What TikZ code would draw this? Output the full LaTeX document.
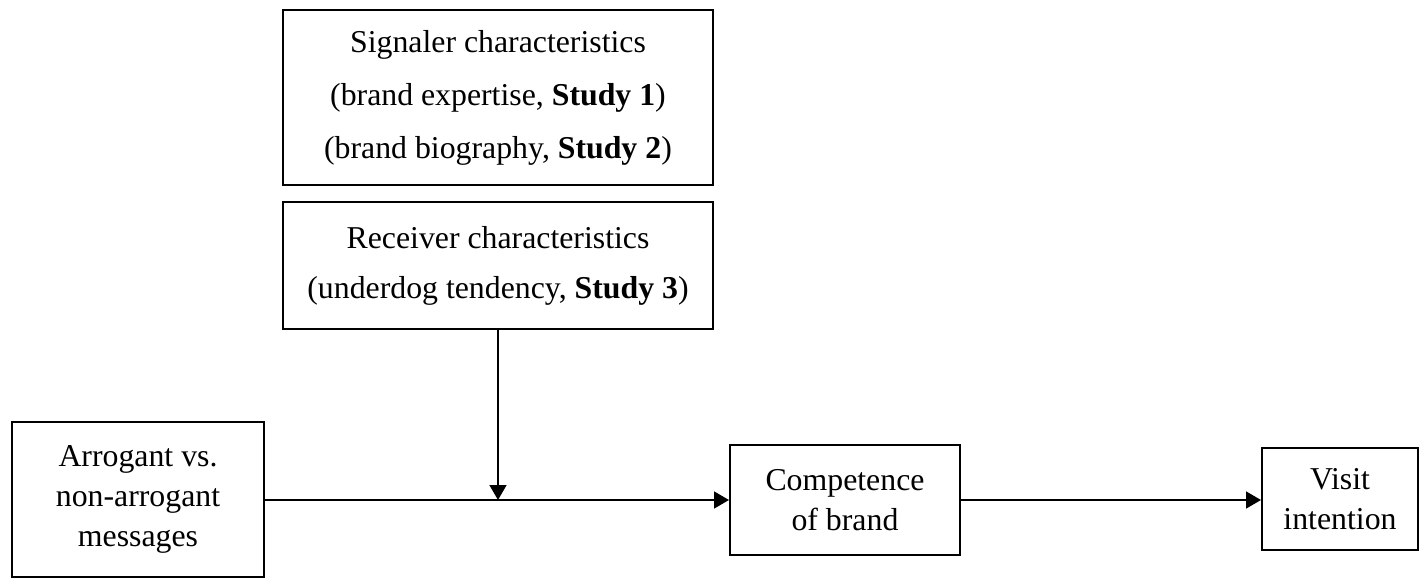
\documentclass[tikz,border=0pt]{standalone}
\usepackage{fontspec}
\setmainfont{Liberation Serif}
\usetikzlibrary{arrows.meta}

\begin{document}
\begin{tikzpicture}[x=0.5pt,y=-0.5pt,
    box/.style={draw, line width=1pt, align=center, inner sep=0pt},
    arr/.style={-{Triangle[length=7.5pt,width=8.5pt]}, line width=0.75pt}]

    % Fix the page size
    \useasboundingbox (0,0) rectangle (1420,578);

    % Moderator boxes at the top
    \node[box, minimum width=215pt, minimum height=87.5pt,
          font=\fontsize{15.9}{26.5}\selectfont] (signaler) at (498,97.5)
        {Signaler characteristics\\(brand expertise, \textbf{Study 1})\\(brand biography, \textbf{Study 2})};
    \node[box, minimum width=215pt, minimum height=63.5pt,
          font=\fontsize{15.9}{25}\selectfont] (receiver) at (498,265.5)
        {Receiver characteristics\\(underdog tendency, \textbf{Study 3})};

    % Main path boxes
    \node[box, minimum width=126pt, minimum height=77.5pt,
          font=\fontsize{15.9}{20}\selectfont] (arrogant) at (138,499.5)
        {Arrogant vs.\\non-arrogant\\messages};
    \node[box, minimum width=115pt, minimum height=55pt,
          font=\fontsize{15.9}{20}\selectfont] (competence) at (845,500)
        {Competence\\of brand};
    \node[box, minimum width=78pt, minimum height=51pt,
          font=\fontsize{15.9}{20}\selectfont] (visit) at (1340,499)
        {Visit\\intention};

    % Point where the moderator meets the main path
    \coordinate (meet) at (receiver.south |- competence.west);

    % Draw the arrows
    \draw[arr] (arrogant.east |- competence.west) -- (competence.west);   % Message to competence
    \draw[arr] (competence.east) -- (competence.east -| visit.west);      % Competence to visit
    \draw[arr] (receiver.south) -- (meet);                                % Moderation

\end{tikzpicture}
\end{document}
